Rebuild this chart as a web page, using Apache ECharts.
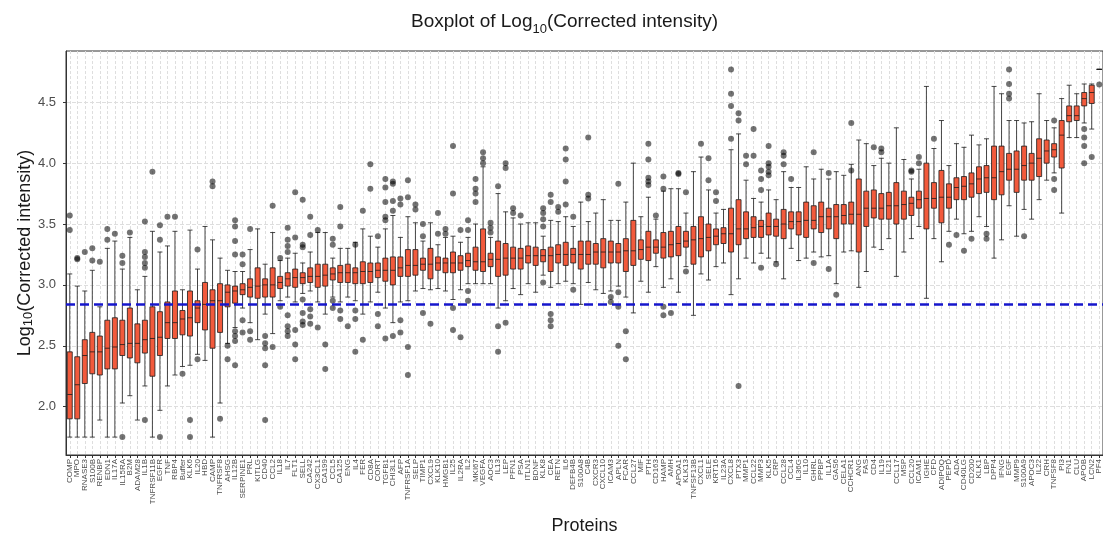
<!DOCTYPE html>
<html>
<head>
<meta charset="utf-8">
<title>Boxplot of Log10(Corrected intensity)</title>
<script src="https://cdn.jsdelivr.net/npm/echarts@6/dist/echarts.min.js"></script>
<style>
  html, body { margin: 0; padding: 0; background: #fff; }
  #main { width: 1103px; height: 537px; }
</style>
</head>
<body>
<div id="main"></div>
<script>
// proteins, ordered by median
var proteins = [
  'COMP', 'MPO', 'RNASE3', 'S100B', 'RENBP', 'EDN1', 'IL17A', 'IL15RA', 'B2M', 'ADAM28',
  'IL1B', 'TNFRSF11B', 'EGFR', 'TNF', 'RBP4', 'Buffer', 'KLK6', 'IL20', 'HBD', 'CAMP',
  'TNFRSF8', 'AHSG', 'IL12B', 'SERPINE1', 'PRL', 'KITLG', 'CD40', 'CCL2', 'IL18', 'IL7',
  'FLT1', 'SELL', 'CA242', 'CX3CL1', 'CA199', 'CCL5', 'CA125', 'ENG', 'IL4', 'FER',
  'CD8A', 'CORT', 'TGFB1', 'CHI3L1', 'AFP', 'TNFRSF1A', 'SELP', 'TIMP1', 'CXCL9', 'KLK10',
  'HMGB1', 'IL25', 'IL2RA', 'IL2', 'MKI67', 'VEGFA', 'AOC3', 'IL13', 'LEP', 'PFN1',
  'PSA', 'ITLN1', 'BDNF', 'KLK8', 'CEA', 'RETN', 'IL6', 'DEFB4B', 'S100A8', 'C4B',
  'CXCR3', 'CXCL10', 'ICAM3', 'APLN', 'FCAR', 'CCL27', 'MIF', 'PTH', 'CD163', 'HAMP',
  'AMH', 'APOA1', 'KLK13', 'TNFSF13B', 'CXCL1', 'SELE', 'KRT16', 'IL23A', 'CXCL8', 'PTX3',
  'MMP1', 'CCL22', 'MMP3', 'KLK5', 'CRP', 'CCL28', 'CCL4', 'IL36G', 'IL10', 'GHRL',
  'PPBP', 'IL1A', 'GAS6', 'CELA1', 'CCHCR1', 'ANG', 'FAS', 'CD4', 'IL19', 'IL21',
  'CCL17', 'MSP', 'CCL20', 'ICAM1', 'IGHE', 'CFD', 'ADIPOQ', 'PEPD', 'ADA', 'CD40LG',
  'CD200', 'KLK1', 'LBP', 'DPP4', 'IFNG', 'EGF', 'MMP9', 'S100A9', 'APOC3', 'IL22',
  'CRH', 'TNFSF8', 'PI3', 'FN1', 'CLU', 'APOB', 'LCN2', 'PF4'
]

var whiskerLow = [
  1.75, 1.75, 1.75, 1.75, 1.89, 1.75, 1.75, 2.03, 2.09, 1.89,
  2.17, 1.75, 1.97, 2.17, 2.26, 2.33, 2.34, 2.43, 2.38, 1.75,
  2.03, 2.52, 2.65, 2.81, 2.69, 2.55, 2.76, 2.60, 2.87, 2.90,
  2.86, 2.93, 2.95, 2.86, 2.76, 2.90, 2.86, 2.90, 2.87, 2.76,
  2.86, 2.94, 2.81, 2.69, 2.86, 2.87, 2.95, 2.97, 2.96, 2.97,
  2.95, 2.88, 2.96, 3.01, 3.01, 3.01, 3.01, 2.81, 2.87, 2.97,
  2.92, 3.01, 2.94, 3.08, 2.98, 3.01, 3.03, 3.01, 2.84, 3.02,
  2.96, 2.93, 2.95, 2.99, 2.90, 2.77, 3.03, 2.94, 3.15, 2.98,
  3.05, 2.94, 3.15, 2.75, 3.09, 3.04, 3.15, 3.18, 2.92, 3.05,
  3.22, 3.18, 3.26, 3.22, 3.19, 3.05, 3.30, 3.20, 3.22, 3.27,
  3.23, 3.24, 3.01, 3.27, 3.28, 2.98, 3.11, 3.31, 3.29, 3.38,
  3.07, 3.27, 3.38, 3.48, 2.89, 3.38, 3.19, 3.44, 3.54, 3.42,
  3.44, 3.56, 3.48, 3.22, 3.37, 3.65, 3.40, 3.62, 3.54, 3.70,
  3.86, 3.92, 3.59, 4.21, 4.21, 4.33, 4.28, 4.77
]
var q1 = [
  1.90, 1.90, 2.19, 2.27, 2.26, 2.31, 2.31, 2.42, 2.40, 2.36,
  2.44, 2.25, 2.42, 2.56, 2.56, 2.59, 2.58, 2.69, 2.63, 2.48,
  2.61, 2.82, 2.85, 2.92, 2.90, 2.89, 2.90, 2.90, 2.97, 2.99,
  2.98, 3.01, 3.02, 2.98, 2.99, 3.04, 3.02, 3.02, 3.01, 3.01,
  3.02, 3.06, 3.03, 3.00, 3.07, 3.07, 3.08, 3.12, 3.05, 3.12,
  3.10, 3.10, 3.12, 3.15, 3.12, 3.11, 3.15, 3.07, 3.08, 3.13,
  3.13, 3.18, 3.16, 3.19, 3.11, 3.18, 3.16, 3.18, 3.13, 3.17,
  3.17, 3.14, 3.18, 3.18, 3.11, 3.16, 3.21, 3.20, 3.26, 3.22,
  3.23, 3.24, 3.31, 3.17, 3.23, 3.28, 3.33, 3.34, 3.27, 3.33,
  3.38, 3.39, 3.39, 3.41, 3.40, 3.38, 3.46, 3.41, 3.39, 3.46,
  3.43, 3.46, 3.38, 3.50, 3.50, 3.27, 3.48, 3.55, 3.54, 3.54,
  3.50, 3.54, 3.57, 3.63, 3.46, 3.63, 3.51, 3.63, 3.70, 3.70,
  3.72, 3.75, 3.76, 3.70, 3.74, 3.86, 3.76, 3.86, 3.86, 3.89,
  4.00, 4.05, 3.96, 4.34, 4.35, 4.47, 4.49, 4.77
]
var median = [
  2.10, 2.18, 2.42, 2.45, 2.45, 2.48, 2.49, 2.51, 2.52, 2.52,
  2.55, 2.56, 2.57, 2.69, 2.69, 2.72, 2.73, 2.81, 2.84, 2.87,
  2.87, 2.94, 2.95, 2.96, 2.98, 2.99, 3.00, 3.00, 3.02, 3.05,
  3.06, 3.06, 3.07, 3.07, 3.08, 3.09, 3.10, 3.10, 3.10, 3.11,
  3.11, 3.12, 3.12, 3.12, 3.14, 3.16, 3.16, 3.17, 3.17, 3.18,
  3.18, 3.18, 3.18, 3.20, 3.19, 3.19, 3.21, 3.21, 3.22, 3.22,
  3.22, 3.24, 3.24, 3.24, 3.24, 3.25, 3.25, 3.25, 3.25, 3.25,
  3.27, 3.27, 3.27, 3.27, 3.28, 3.28, 3.29, 3.31, 3.31, 3.31,
  3.33, 3.34, 3.36, 3.37, 3.38, 3.39, 3.40, 3.42, 3.42, 3.46,
  3.46, 3.47, 3.48, 3.48, 3.48, 3.50, 3.52, 3.52, 3.53, 3.53,
  3.56, 3.56, 3.56, 3.57, 3.58, 3.58, 3.63, 3.63, 3.63, 3.65,
  3.65, 3.66, 3.67, 3.70, 3.71, 3.71, 3.72, 3.72, 3.80, 3.81,
  3.83, 3.87, 3.88, 3.88, 3.93, 3.95, 3.95, 3.98, 4.00, 4.04,
  4.10, 4.11, 4.23, 4.39, 4.39, 4.53, 4.58, 4.77
]
var q3 = [
  2.45, 2.41, 2.55, 2.61, 2.58, 2.71, 2.73, 2.71, 2.81, 2.68,
  2.71, 2.82, 2.78, 2.86, 2.95, 2.79, 2.95, 2.87, 3.02, 2.96,
  3.01, 3.00, 2.99, 3.01, 3.05, 3.14, 3.05, 3.14, 3.07, 3.10,
  3.13, 3.10, 3.14, 3.17, 3.17, 3.14, 3.16, 3.17, 3.14, 3.19,
  3.18, 3.18, 3.22, 3.23, 3.23, 3.29, 3.29, 3.22, 3.30, 3.23,
  3.22, 3.27, 3.24, 3.26, 3.31, 3.46, 3.26, 3.36, 3.34, 3.31,
  3.30, 3.32, 3.31, 3.29, 3.31, 3.33, 3.35, 3.30, 3.36, 3.36,
  3.34, 3.38, 3.36, 3.34, 3.38, 3.53, 3.37, 3.44, 3.37, 3.43,
  3.44, 3.48, 3.44, 3.48, 3.56, 3.50, 3.46, 3.47, 3.63, 3.70,
  3.60, 3.56, 3.53, 3.59, 3.54, 3.62, 3.60, 3.60, 3.68, 3.65,
  3.68, 3.63, 3.66, 3.66, 3.68, 3.87, 3.77, 3.78, 3.75, 3.76,
  3.84, 3.77, 3.72, 3.77, 4.00, 3.84, 3.94, 3.83, 3.88, 3.89,
  3.92, 3.97, 3.98, 4.14, 4.14, 4.08, 4.10, 4.14, 4.08, 4.20,
  4.19, 4.16, 4.35, 4.47, 4.47, 4.58, 4.64, 4.77
]
var whiskerHigh = [
  3.09, 2.99, 2.95, 3.12, 2.82, 3.30, 3.36, 3.13, 3.39, 2.96,
  3.07, 3.44, 3.27, 3.32, 3.44, 2.96, 3.45, 3.13, 3.48, 3.37,
  3.22, 3.12, 3.11, 3.11, 3.29, 3.46, 3.17, 3.43, 3.20, 3.22,
  3.26, 3.18, 3.27, 3.43, 3.43, 3.22, 3.30, 3.30, 3.35, 3.46,
  3.40, 3.31, 3.46, 3.57, 3.39, 3.56, 3.51, 3.36, 3.51, 3.33,
  3.39, 3.40, 3.35, 3.39, 3.50, 3.97, 3.39, 3.75, 3.60, 3.55,
  3.50, 3.51, 3.51, 3.40, 3.53, 3.52, 3.56, 3.48, 3.68, 3.52,
  3.59, 3.70, 3.53, 3.53, 3.68, 4.00, 3.56, 3.72, 3.54, 3.77,
  3.79, 3.79, 3.59, 3.93, 4.05, 3.78, 3.59, 3.62, 4.11, 4.24,
  3.86, 3.71, 3.68, 3.78, 3.70, 3.93, 3.80, 3.80, 3.97, 3.87,
  3.95, 3.87, 3.93, 3.90, 3.99, 4.19, 4.16, 3.98, 4.04, 4.00,
  4.29, 4.03, 3.87, 3.95, 4.63, 4.12, 4.35, 3.98, 4.16, 4.13,
  4.23, 4.15, 4.20, 4.63, 4.57, 4.35, 4.35, 4.33, 4.34, 4.57,
  4.35, 4.29, 4.53, 4.64, 4.57, 4.65, 4.65, 4.77
]

// outliers: [protein index, value]
var outliers = [
  [0, 3.57], [0, 3.45], [1, 3.21], [1, 3.22], [2, 3.27], [3, 3.30], [3, 3.20], [4, 3.19],
  [5, 3.46], [5, 3.37], [6, 3.42], [7, 3.24], [7, 3.18], [7, 1.75], [8, 3.43],
  [10, 3.52], [10, 3.27], [10, 3.23], [10, 3.18], [10, 3.14], [10, 1.89], [11, 3.93],
  [12, 3.49], [12, 3.37], [12, 1.75], [13, 3.56], [14, 3.56], [15, 2.27], [16, 1.89], [16, 1.75],
  [17, 3.29], [17, 2.39], [19, 3.85], [19, 3.81], [20, 1.90], [21, 2.50], [21, 2.39],
  [22, 3.53], [22, 3.48], [22, 3.36], [22, 3.25], [22, 2.62], [22, 2.58], [22, 2.54], [22, 2.34],
  [23, 3.25], [23, 3.17], [23, 2.71], [23, 2.61], [24, 3.46], [24, 2.62], [24, 2.55],
  [26, 2.58], [26, 2.52], [26, 2.48], [26, 2.34], [26, 1.89], [27, 3.65], [27, 2.49],
  [28, 3.22], [28, 2.82],
  [29, 3.47], [29, 3.37], [29, 3.32], [29, 3.27], [29, 2.75], [29, 2.66], [29, 2.62], [29, 2.58],
  [30, 3.76], [30, 3.39], [30, 2.63], [30, 2.51], [30, 2.39],
  [31, 3.70], [31, 3.33], [31, 3.31], [31, 2.88], [31, 2.77], [31, 2.70], [31, 2.67],
  [32, 3.56], [32, 3.41], [32, 2.80], [32, 2.74], [32, 2.68], [33, 3.45], [33, 2.65],
  [34, 2.51], [34, 2.31], [35, 3.38], [35, 3.33], [35, 2.87], [35, 2.81],
  [36, 3.64], [36, 3.48], [36, 2.79], [36, 2.72], [37, 2.66],
  [38, 3.33], [38, 2.79], [38, 2.72], [38, 2.45], [39, 3.61], [39, 2.55], [40, 3.99], [40, 3.79],
  [41, 3.40], [41, 2.76], [41, 2.66],
  [42, 3.87], [42, 3.80], [42, 3.68], [42, 3.56], [42, 3.53], [42, 2.56],
  [43, 3.85], [43, 3.83], [43, 3.69], [43, 3.61], [43, 2.58],
  [44, 3.71], [44, 3.66], [44, 2.71], [44, 2.61], [45, 3.86], [45, 3.72], [45, 2.49], [45, 2.26],
  [46, 3.66], [46, 3.62], [47, 3.50], [47, 3.40], [47, 2.77], [48, 2.68], [49, 3.59], [49, 3.42],
  [50, 3.46], [50, 3.42], [51, 4.14], [51, 3.75], [51, 2.81], [51, 2.63], [52, 3.45], [52, 2.57],
  [53, 3.53], [53, 3.45], [53, 2.95], [53, 2.87], [54, 3.87], [54, 3.79], [54, 3.75], [54, 3.68],
  [55, 4.09], [55, 4.04], [55, 4.00], [56, 3.51], [56, 3.47], [56, 3.43],
  [57, 3.81], [57, 2.66], [57, 2.45], [58, 4.00], [58, 3.96], [58, 2.69], [59, 3.63], [59, 3.59],
  [60, 3.57], [63, 3.63], [63, 3.59], [63, 3.54], [63, 3.48], [63, 3.02],
  [64, 3.74], [64, 3.68], [64, 2.76], [64, 2.71], [64, 2.66], [65, 3.64], [65, 3.60],
  [66, 4.12], [66, 4.03], [66, 3.85], [66, 3.66], [67, 3.56], [67, 2.96],
  [69, 4.21], [69, 3.74], [69, 3.71], [72, 2.90], [72, 2.86],
  [73, 3.83], [73, 2.94], [73, 2.82], [73, 2.50], [74, 2.62], [74, 2.39],
  [77, 4.16], [77, 4.03], [77, 3.88], [77, 3.85], [77, 3.82], [78, 3.57],
  [79, 3.89], [79, 3.79], [79, 2.82], [79, 2.75], [80, 2.77], [81, 3.92], [81, 3.91],
  [82, 3.76], [82, 3.11], [84, 4.16], [85, 4.04], [85, 3.86], [86, 3.76], [86, 3.69],
  [88, 4.77], [88, 4.57], [88, 4.47], [88, 4.20], [89, 4.41], [89, 4.35], [89, 2.17],
  [90, 4.06], [90, 3.99], [91, 4.28], [91, 4.06], [92, 3.94], [92, 3.87], [92, 3.78], [92, 3.14],
  [93, 4.14], [93, 4.00], [93, 3.97], [93, 3.93], [93, 3.90], [94, 3.17],
  [95, 4.09], [95, 4.06], [95, 3.99], [96, 3.87], [99, 4.09], [99, 3.18],
  [101, 3.92], [101, 3.13], [102, 2.92], [104, 4.33], [104, 3.94], [107, 4.13],
  [108, 4.12], [108, 4.09], [112, 3.94], [112, 3.93], [113, 4.05], [113, 4.00], [115, 4.20],
  [117, 3.33], [118, 3.41], [119, 3.28], [120, 3.38], [122, 3.42], [122, 3.38],
  [125, 4.77], [125, 4.65], [125, 4.57], [125, 4.53], [127, 3.40],
  [131, 4.35], [131, 3.87], [131, 3.78], [135, 4.28], [135, 4.21], [135, 4.14], [135, 4.00],
  [136, 4.05], [137, 4.645]
]

var yTicks = [2.0, 2.5, 3.0, 3.5, 4.0, 4.5]
var threshold = 2.84

var font = 'Liberation Sans, Arial, Helvetica, sans-serif'

// box data for the boxplot series
var boxData = proteins.map(function (p, i) {
  return [whiskerLow[i], q1[i], median[i], q3[i], whiskerHigh[i]]
})

// helper axis used only to draw the dashed vertical grid lines at box centres
var halfSteps = []
for (var k = 0; k <= proteins.length * 2; k++) halfSteps.push('')

var myChart = echarts.init(document.getElementById('main'))
myChart.setOption({
  animation: false,
  backgroundColor: '#ffffff',
  title: {
    text: '{n|Boxplot of Log}{s|10}{n|(Corrected intensity)}',
    left: 406,
    top: 3,
    textStyle: {
      fontWeight: 'normal',
      rich: {
        n: { fontSize: 19, fontWeight: 'normal', color: '#1a1a1a', fontFamily: font, lineHeight: 28 },
        s: { fontSize: 13, fontWeight: 'normal', color: '#1a1a1a', fontFamily: font, lineHeight: 13, verticalAlign: 'bottom' }
      }
    }
  },
  grid: {
    left: 66,
    top: 51,
    width: 1037,
    height: 404,
    outerBoundsMode: 'none',
    show: true,
    backgroundColor: '#ffffff',
    borderColor: '#333333',
    borderWidth: 1
  },
  xAxis: [
    {
      type: 'category',
      data: proteins,
      name: 'Proteins',
      nameLocation: 'middle',
      nameGap: 62,
      nameTextStyle: { fontSize: 18, color: '#1a1a1a', fontFamily: font },
      axisLine: { show: true, lineStyle: { color: '#333333', width: 1 } },
      axisTick: { show: true, alignWithLabel: true, interval: 0, length: 3, lineStyle: { color: '#333333' } },
      axisLabel: { interval: 0, rotate: 90, fontSize: 8, color: '#4d4d4d', margin: 4, fontFamily: font },
      splitLine: { show: false }
    },
    {
      type: 'category',
      data: halfSteps,
      boundaryGap: false,
      position: 'top',
      axisLine: { show: false },
      axisTick: { show: false },
      axisLabel: { show: false },
      splitLine: {
        show: true,
        interval: function (idx) { return idx % 2 === 1 },
        lineStyle: { color: '#dedede', width: 1, type: [3, 2] }
      }
    }
  ],
  yAxis: {
    type: 'value',
    min: 1.603,
    max: 4.921,
    name: '{n|Log}{s|10}{n|(Corrected intensity)}',
    nameLocation: 'middle',
    nameGap: 31,
    nameMoveOverlap: false,
    nameTextStyle: {
      rich: {
        n: { fontSize: 18, color: '#1a1a1a', fontFamily: font, lineHeight: 20 },
        s: { fontSize: 13, color: '#1a1a1a', fontFamily: font, lineHeight: 13, verticalAlign: 'bottom' }
      }
    },
    axisLine: { show: true, lineStyle: { color: '#333333', width: 1 } },
    axisTick: { show: true, length: 3, customValues: yTicks, lineStyle: { color: '#333333' } },
    axisLabel: {
      customValues: yTicks,
      fontSize: 13,
      color: '#4d4d4d',
      margin: 10,
      fontFamily: font,
      formatter: function (v) { return v.toFixed(1) }
    },
    splitLine: { show: true, lineStyle: { color: '#dedede', width: 1, type: [4, 2] } }
  },
  series: [
    {
      name: 'boxes',
      type: 'boxplot',
      xAxisIndex: 0,
      data: boxData,
      boxWidth: [5, 5],
      silent: true,
      itemStyle: { color: '#f25a3c', borderColor: '#1a1a1a', borderWidth: 0.8 },
      z: 2
    },
    {
      name: 'outliers',
      type: 'scatter',
      xAxisIndex: 0,
      data: outliers,
      symbolSize: 6,
      silent: true,
      itemStyle: { color: '#000000', opacity: 0.55 },
      z: 3,
      markLine: {
        silent: true,
        symbol: 'none',
        label: { show: false },
        lineStyle: { color: '#1616cc', width: 2.5, type: [9, 5] },
        data: [{ yAxis: threshold }]
      }
    }
  ]
})
</script>
</body>
</html>
